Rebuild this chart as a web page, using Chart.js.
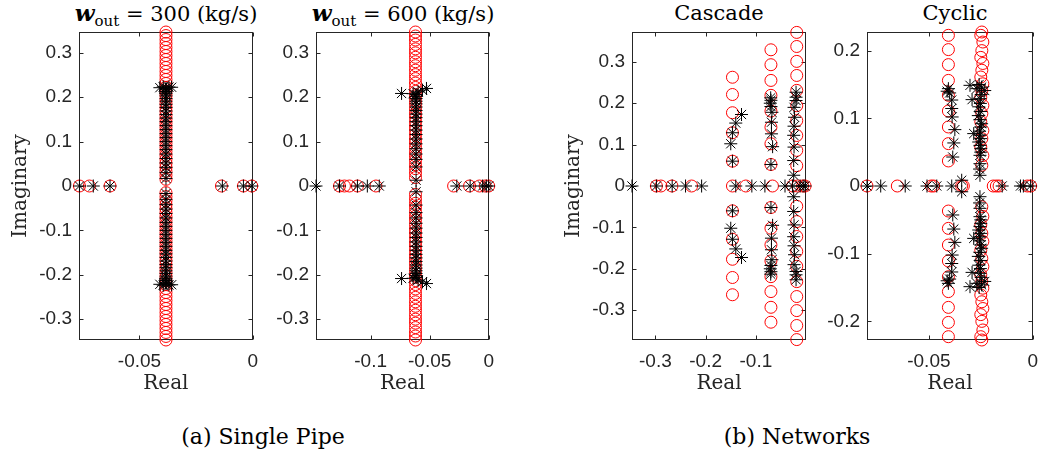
<!DOCTYPE html>
<html>
<head>
<meta charset="utf-8">
<script src="https://cdn.jsdelivr.net/npm/chart.js"></script>
<style>
  body { margin: 0; background: #fff; width: 1048px; height: 453px; position: relative; overflow: hidden; }
  canvas { position: absolute; top: 0; }
  .txt { position: absolute; font-family: "DejaVu Serif", serif; font-size: 21px; line-height: 20px; color: #000; white-space: nowrap; transform: translateX(-50%); }
  .cap { font-size: 22px; }
  .sub { font-size: 15px; position: relative; top: 5px; }
  .w { font-size: 23px; }
</style>
</head>
<body>
<div class="txt" style="left:166px;top:3px"><b><i class="w">w</i></b><span class="sub">out</span> = 300 (kg/s)</div>
<div class="txt" style="left:403px;top:3px"><b><i class="w">w</i></b><span class="sub">out</span> = 600 (kg/s)</div>
<div class="txt" style="left:719px;top:3px">Cascade</div>
<div class="txt" style="left:955px;top:3px">Cyclic</div>
<div class="txt cap" style="left:263px;top:427px">(a) Single Pipe</div>
<div class="txt cap" style="left:797px;top:427px">(b) Networks</div>

<canvas id="c1" width="264" height="400" style="left:4px"></canvas>
<canvas id="c2" width="263" height="400" style="left:241px"></canvas>
<canvas id="c3" width="263" height="400" style="left:557px"></canvas>
<canvas id="c4" width="256" height="400" style="left:792px"></canvas>

<script>
// ---- tick values / labels ----
const yTicks3 = [-0.3, -0.2, -0.1, 0, 0.1, 0.2, 0.3];
const yLabels3 = ['-0.3', '-0.2', '-0.1', '0', '0.1', '0.2', '0.3'];
const yTicks2 = [-0.2, -0.1, 0, 0.1, 0.2];
const yLabels2 = ['-0.2', '-0.1', '0', '0.1', '0.2'];
const p1XTicks = [-0.05, 0];
const p1XLabels = ['-0.05', '0'];
const p2XTicks = [-0.1, -0.05, 0];
const p2XLabels = ['-0.1', '-0.05', '0'];
const p3XTicks = [-0.3, -0.2, -0.1];
const p3XLabels = ['-0.3', '-0.2', '-0.1'];
const p4XTicks = [-0.05, 0];
const p4XLabels = ['-0.05', '0'];

// ---- panel 1: w_out = 300 ----
// red circles / black stars on the real axis
const p1RedAxis = [-0.0765, -0.0721, -0.0630, -0.0138, -0.0041, -0.0004];
const p1BlackAxis = [-0.0765, -0.0704, -0.0630, -0.0134, -0.0041, -0.0004];
// complex pairs (upper half; conjugates are drawn too)
const p1RedColRe = [-0.0383];
const p1RedColIm = [[0.015, 0.024, 0.033, 0.042, 0.051, 0.060, 0.069, 0.078, 0.087, 0.096, 0.105, 0.114,
  0.123, 0.132, 0.141, 0.150, 0.159, 0.168, 0.177, 0.186, 0.195, 0.204, 0.213, 0.222, 0.231, 0.240,
  0.249, 0.258, 0.267, 0.276, 0.285, 0.294, 0.303, 0.312, 0.321, 0.330, 0.339, 0.347]];
const p1BlackRe = [-0.0383, -0.0383, -0.0383, -0.0383, -0.0383, -0.0383, -0.0383, -0.0383, -0.0383, -0.0383,
  -0.0383, -0.0383, -0.0383, -0.0383, -0.0383, -0.0383, -0.0383, -0.0383, -0.0383, -0.0383,
  -0.0383, -0.0383, -0.0383, -0.0383, -0.0383, -0.0383, -0.0410, -0.0358, -0.0395, -0.0370];
const p1BlackIm = [0.017, 0.030, 0.042, 0.052, 0.062, 0.072, 0.082, 0.091, 0.100, 0.109,
  0.118, 0.127, 0.136, 0.145, 0.153, 0.161, 0.169, 0.177, 0.184, 0.191,
  0.197, 0.203, 0.208, 0.213, 0.217, 0.220, 0.2215, 0.2225, 0.2235, 0.2230];

// ---- panel 2: w_out = 600 ----
const p2RedAxis = [-0.1264, -0.1222, -0.1180, -0.1112, -0.0955, -0.0297, -0.0162, -0.0078, -0.0030, 0.0];
const p2BlackAxis = [-0.1463, -0.1264, -0.1112, -0.1028, -0.0927, -0.0270, -0.0157, -0.0051, -0.0020, 0.0];
const p2RedColRe = [-0.0620];
const p2RedColIm = [[0.019, 0.029, 0.039, 0.048, 0.058, 0.068, 0.077, 0.087, 0.097, 0.106, 0.116, 0.126,
  0.135, 0.145, 0.155, 0.164, 0.174, 0.184, 0.193, 0.203, 0.213, 0.222, 0.232, 0.242, 0.251, 0.261,
  0.271, 0.280, 0.290, 0.300, 0.309, 0.319, 0.329, 0.338, 0.347]];
const p2BlackRe = [-0.0615, -0.0615, -0.0615, -0.0615, -0.0615, -0.0615, -0.0615, -0.0615, -0.0615, -0.0615,
  -0.0615, -0.0615, -0.0615, -0.0615, -0.0615, -0.0615, -0.0615, -0.0615, -0.0615, -0.0615,
  -0.0738, -0.0640, -0.0598, -0.0561, -0.0527];
const p2BlackIm = [0.013, 0.043, 0.060, 0.072, 0.084, 0.095, 0.106, 0.116, 0.126, 0.136,
  0.145, 0.154, 0.162, 0.170, 0.178, 0.185, 0.191, 0.197, 0.202, 0.206,
  0.2085, 0.2080, 0.2120, 0.2160, 0.2198];

// ---- panel 3: Cascade ----
const p3RedAxis = [-0.298, -0.289, -0.267, -0.228, -0.1466, -0.120, -0.067, -0.027, -0.017, -0.007, -0.002];
const p3BlackAxis = [-0.3466, -0.298, -0.2666, -0.240, -0.208, -0.140, -0.108, -0.082, -0.042, -0.027, -0.012, -0.006, -0.002];
const p3RedColRe = [-0.1466, -0.0700, -0.0186];
const p3RedColIm = [
  [0.060, 0.1286, 0.177, 0.221, 0.2627],
  [0.052, 0.102, 0.142, 0.181, 0.219, 0.255, 0.293, 0.329],
  [0.049, 0.086, 0.122, 0.158, 0.194, 0.231, 0.267, 0.301, 0.337, 0.371]
];
const p3BlackRe = [-0.1466, -0.1500, -0.1466, -0.1400, -0.1286,
  -0.0700, -0.0667, -0.0690, -0.0690, -0.0680, -0.0700, -0.0713, -0.0700, -0.0705,
  -0.0247, -0.0247, -0.0240, -0.0247, -0.0240, -0.0230, -0.0240, -0.0200, -0.0200, -0.0200];
const p3BlackIm = [0.060, 0.102, 0.1286, 0.152, 0.1727,
  0.052, 0.095, 0.126, 0.154, 0.178, 0.192, 0.200, 0.207, 0.213,
  0.026, 0.0615, 0.094, 0.1225, 0.1445, 0.166, 0.190, 0.2065, 0.2145, 0.2265];

// ---- panel 4: Cyclic ----
const p4RedAxis = [-0.0798, -0.0652, -0.0489, -0.0477, -0.0342, -0.0334, -0.0190, -0.0175, -0.0162, -0.0026, -0.0010];
const p4BlackAxis = [-0.0798, -0.0732, -0.0614, -0.0509, -0.0462, -0.0390, -0.0147, -0.0059, -0.0045, -0.0010];
const p4RedColRe = [-0.0406, -0.0250, -0.0240, -0.0245];
const p4RedColIm = [
  [0.037, 0.0626, 0.0872, 0.1108, 0.134, 0.156, 0.1793, 0.2015, 0.2226],
  [0.2226, 0.1900, 0.1610, 0.1310, 0.0950, 0.0576],
  [0.2127, 0.1810, 0.1510, 0.1190, 0.0820, 0.0450],
  [0.2275, 0.2000, 0.1710, 0.1410, 0.1070, 0.0700, 0.0306]
];
const p4BlackRe = [-0.0406, -0.0412, -0.0400, -0.0390, -0.0390, -0.0388, -0.0375, -0.0380, -0.0385,
  -0.0302, -0.0246, -0.0269, -0.0231, -0.0292, -0.0254, -0.0260, -0.0250, -0.0254, -0.0250,
  -0.0284, -0.0254, -0.0260, -0.0250, -0.0254, -0.0254, -0.0254, -0.0258, -0.0248, -0.0252,
  -0.0262, -0.0246, -0.0256, -0.0250, -0.0254, -0.0250, -0.0256, -0.0342];
const p4BlackIm = [0.1438, 0.1400, 0.1375, 0.1270, 0.1145, 0.1020, 0.0833, 0.0636, 0.0428,
  0.1487, 0.1460, 0.1438, 0.1410, 0.1276, 0.1290, 0.1170, 0.1100, 0.0980, 0.0872,
  0.0774, 0.0750, 0.0650, 0.0552, 0.0453, 0.0330, 0.0158, 0.1500, 0.1350, 0.1220,
  0.1040, 0.0920, 0.0810, 0.0700, 0.0600, 0.0500, 0.0250, 0.0085];

const AXIS_COLOR = '#262626';

// axis box with inward ticks on all four sides, like the original figure
const boxPlugin = {
  id: 'box',
  beforeDatasetsDraw(chart) {
    const { ctx, chartArea: a, scales: { x, y } } = chart;
    const L = Math.round(a.left) + 0.5, R = Math.round(a.right) - 0.5;
    const T = Math.round(a.top) + 0.5, B = Math.round(a.bottom) - 0.5;
    ctx.save();
    ctx.strokeStyle = AXIS_COLOR;
    ctx.lineWidth = 1;
    ctx.strokeRect(L, T, R - L, B - T);
    ctx.beginPath();
    x.ticks.forEach((t) => {
      const px = Math.round(x.getPixelForValue(t.value)) + 0.5;
      ctx.moveTo(px, B); ctx.lineTo(px, B - 4);
      ctx.moveTo(px, T); ctx.lineTo(px, T + 4);
    });
    y.ticks.forEach((t) => {
      const py = Math.round(y.getPixelForValue(t.value)) + 0.5;
      ctx.moveTo(L, py); ctx.lineTo(L + 4, py);
      ctx.moveTo(R, py); ctx.lineTo(R - 4, py);
    });
    ctx.stroke();
    ctx.restore();
  }
};

function pairs(axisRe, colRe, colIm, re, im) {
  const pts = axisRe.map((r) => ({ x: r, y: 0 }));
  colRe.forEach((r, c) => colIm[c].forEach((v) => { pts.push({ x: r, y: v }); pts.push({ x: r, y: -v }); }));
  re.forEach((r, i) => { pts.push({ x: r, y: im[i] }); pts.push({ x: r, y: -im[i] }); });
  return pts;
}

function makePanel(id, p) {
  const tickFont = { family: '"Liberation Sans", Arial, sans-serif', size: 19 };
  const titleFont = { family: '"DejaVu Serif", serif', size: 20 };
  new Chart(document.getElementById(id), {
    type: 'scatter',
    data: {
      datasets: [
        {
          data: pairs(p.blackAxis, [], [], p.blackRe, p.blackIm),
          pointStyle: 'star', pointRadius: 6.5, pointHoverRadius: 6.5,
          borderColor: '#000', backgroundColor: 'transparent', borderWidth: 1, clip: false
        },
        {
          data: pairs(p.redAxis, p.redColRe, p.redColIm, [], []),
          pointStyle: 'circle', pointRadius: 6, pointHoverRadius: 6,
          borderColor: '#ff0000', backgroundColor: 'transparent', borderWidth: 1, clip: false
        }
      ]
    },
    options: {
      responsive: false,
      animation: false,
      events: [],
      layout: { padding: { top: 32, right: p.padRight, bottom: 0, left: 0 } },
      plugins: { legend: { display: false }, tooltip: { enabled: false } },
      scales: {
        x: {
          type: 'linear', min: p.xMin, max: p.xMax,
          grid: { display: false, drawTicks: false },
          border: { display: false },
          afterBuildTicks: (s) => { s.ticks = p.xTicks.map((v) => ({ value: v })); },
          afterFit: (s) => { s.height = 60; },
          ticks: {
            autoSkip: false, maxRotation: 0, padding: 10, color: AXIS_COLOR, font: tickFont,
            callback: (v, i) => p.xLabels[i]
          },
          title: { display: true, text: 'Real', color: AXIS_COLOR, font: titleFont, padding: { top: 0, bottom: 4 } }
        },
        y: {
          type: 'linear', min: -p.yLim, max: p.yLim,
          grid: { display: false, drawTicks: false },
          border: { display: false },
          afterBuildTicks: (s) => { s.ticks = p.yTicks.map((v) => ({ value: v })); },
          afterFit: (s) => { s.width = 75; },
          ticks: {
            autoSkip: false, padding: 7, color: AXIS_COLOR, font: tickFont,
            callback: (v, i) => p.yLabels[i]
          },
          title: { display: p.yTitle, text: 'Imaginary', color: AXIS_COLOR, font: titleFont, padding: { top: 5, bottom: 0 } }
        }
      }
    },
    plugins: [boxPlugin]
  });
}

makePanel('c1', {
  redAxis: p1RedAxis, blackAxis: p1BlackAxis, redColRe: p1RedColRe, redColIm: p1RedColIm,
  blackRe: p1BlackRe, blackIm: p1BlackIm,
  xMin: -0.0767, xMax: 0, yLim: 0.347, xTicks: p1XTicks, xLabels: p1XLabels,
  yTicks: yTicks3, yLabels: yLabels3, yTitle: true, padRight: 14
});
makePanel('c2', {
  redAxis: p2RedAxis, blackAxis: p2BlackAxis, redColRe: p2RedColRe, redColIm: p2RedColIm,
  blackRe: p2BlackRe, blackIm: p2BlackIm,
  xMin: -0.1463, xMax: 0.0005, yLim: 0.347, xTicks: p2XTicks, xLabels: p2XLabels,
  yTicks: yTicks3, yLabels: yLabels3, yTitle: false, padRight: 14
});
makePanel('c3', {
  redAxis: p3RedAxis, blackAxis: p3BlackAxis, redColRe: p3RedColRe, redColIm: p3RedColIm,
  blackRe: p3BlackRe, blackIm: p3BlackIm,
  xMin: -0.3466, xMax: -0.0002, yLim: 0.372, xTicks: p3XTicks, xLabels: p3XLabels,
  yTicks: yTicks3, yLabels: yLabels3, yTitle: true, padRight: 14
});
makePanel('c4', {
  redAxis: p4RedAxis, blackAxis: p4BlackAxis, redColRe: p4RedColRe, redColIm: p4RedColIm,
  blackRe: p4BlackRe, blackIm: p4BlackIm,
  xMin: -0.0798, xMax: 0.0001, yLim: 0.2275, xTicks: p4XTicks, xLabels: p4XLabels,
  yTicks: yTicks2, yLabels: yLabels2, yTitle: false, padRight: 6
});
</script>
</body>
</html>
